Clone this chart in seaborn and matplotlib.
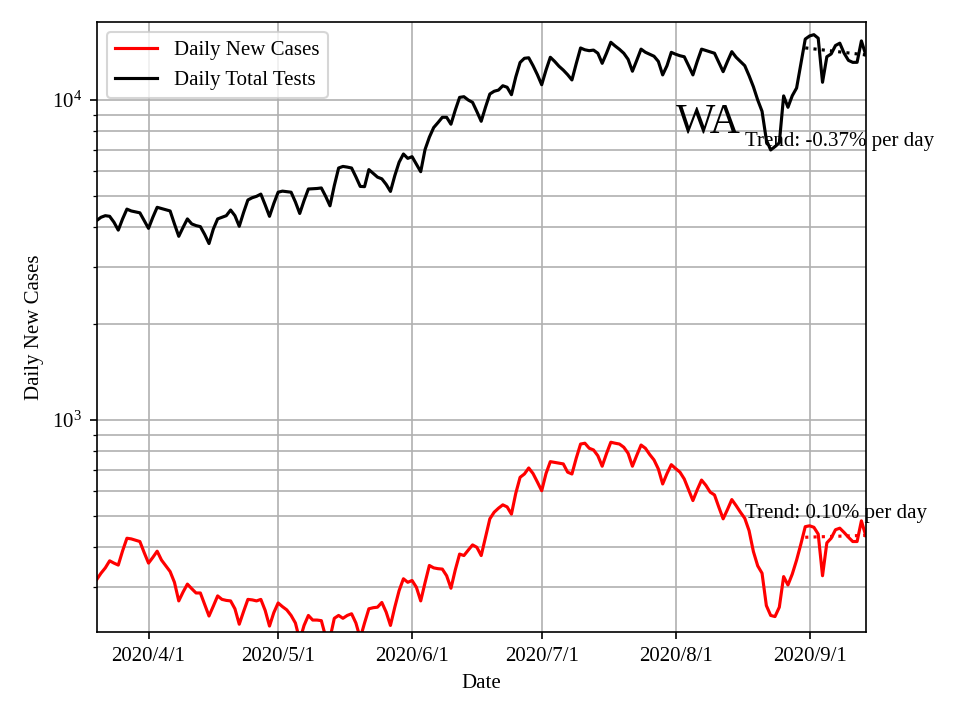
import pandas as pd
import matplotlib
matplotlib.use('Agg')
import matplotlib.pyplot as plt
import matplotlib.dates as mdates
import matplotlib.ticker as mticker
import seaborn as sns

plt.rcParams['font.family'] = ['Liberation Serif', 'DejaVu Serif']
plt.rcParams['mathtext.fontset'] = 'stix'

# daily values, 2020-03-20 .. 2020-09-14
dates = pd.date_range('2020-03-20', '2020-09-14', freq='D')

daily_tests = [
    4200, 4300, 4350, 4330, 4150, 3920, 4250, 4560, 4500, 4470,
    4440, 4200, 3970, 4300, 4620, 4580, 4540, 4500, 4100, 3750,
    4000, 4250, 4100, 4050, 4020, 3800, 3560, 3950, 4250, 4300,
    4350, 4530, 4350, 4030, 4450, 4870, 4950, 5000, 5080, 4700,
    4330, 4750, 5150, 5190, 5170, 5150, 4800, 4420, 4850, 5270,
    5280, 5290, 5310, 5000, 4670, 5400, 6130, 6200, 6170, 6130,
    5750, 5370, 5360, 6060, 5900, 5740, 5670, 5450, 5180, 5800,
    6390, 6780, 6570, 6650, 6300, 5970, 7000, 7650, 8200, 8500,
    8830, 8830, 8400, 9300, 10190, 10240, 10000, 9830, 9200, 8580,
    9500, 10440, 10650, 10740, 11080, 10960, 10390, 11800, 13100, 13500,
    13550, 12800, 12000, 11160, 12400, 13600, 13200, 12750, 12400, 12000,
    11550, 13000, 14540, 14350, 14260, 14320, 14000, 13020, 14000, 15150,
    14750, 14400, 14000, 13400, 12300, 13300, 14420, 14100, 13900, 13700,
    13200, 11980, 12800, 14090, 13900, 13750, 13650, 12800, 11980, 13200,
    14420, 14280, 14140, 14000, 13100, 12260, 13200, 14160, 13600, 13200,
    12800, 11910, 11000, 10000, 9220, 7500, 6980, 7150, 7345, 10300,
    9490, 10314, 10900, 13000, 15500, 15850, 16000, 15600, 11360, 13650,
    13930, 14800, 15050, 14000, 13300, 13110, 13114, 15300, 13850,
]

daily_cases = [
    317, 332, 345, 363, 357, 352, 390, 427, 425, 421,
    417, 385, 357, 372, 389, 365, 350, 336, 311, 272,
    290, 307, 297, 288, 288, 265, 244, 262, 282, 275,
    273, 272, 257, 230, 252, 275, 274, 272, 275, 254,
    227, 250, 268, 261, 255, 245, 232, 205, 228, 245,
    237, 237, 236, 210, 208, 240, 245, 240, 245, 248,
    232, 208, 232, 257, 259, 260, 269, 251, 228, 260,
    293, 319, 311, 315, 300, 272, 310, 351, 345, 343,
    342, 326, 298, 340, 381, 377, 392, 407, 400, 377,
    430, 491, 515, 530, 543, 535, 508, 590, 662, 678,
    708, 680, 640, 601, 680, 741, 737, 733, 729, 687,
    678, 760, 841, 846, 816, 806, 773, 717, 785, 852,
    846, 841, 822, 787, 717, 775, 835, 816, 780, 750,
    703, 631, 680, 725, 705, 687, 654, 605, 560, 605,
    649, 625, 595, 583, 534, 491, 525, 564, 540, 515,
    493, 451, 388, 350, 332, 263, 245, 243, 260, 324,
    305, 330, 365, 410, 464, 467, 462, 440, 326, 413,
    427, 454, 459, 445, 430, 417, 417, 484, 435,
]

# two-week trend fits (start, end)
trend_dates = pd.to_datetime(['2020-08-31', '2020-09-14'])
trend_tests = [14550, 13830]
trend_cases = [430, 436]

df = pd.DataFrame({'Date': dates, 'cases': daily_cases, 'tests': daily_tests})

fig, ax = plt.subplots(figsize=(6.4, 4.8), dpi=150)
fig.subplots_adjust(left=0.1007, right=0.9018, bottom=0.1218, top=0.9699)

sns.lineplot(data=df, x='Date', y='cases', color='red', linewidth=1.5,
             label='Daily New Cases', ax=ax)
sns.lineplot(data=df, x='Date', y='tests', color='black', linewidth=1.5,
             label='Daily Total Tests', ax=ax)
sns.lineplot(x=trend_dates, y=trend_cases, color='red', linestyle=':',
             linewidth=1.5, ax=ax)
sns.lineplot(x=trend_dates, y=trend_tests, color='black', linestyle=':',
             linewidth=1.5, ax=ax)

ax.set_yscale('log')
ax.set_ylim(217, 17570)
ax.set_xlim(dates[0], dates[-1])

ax.xaxis.set_major_locator(mdates.MonthLocator())
ax.xaxis.set_major_formatter(mticker.FuncFormatter(
    lambda v, pos: '{d.year}/{d.month}/{d.day}'.format(d=mdates.num2date(v))))

ax.grid(True, which='both', color='#b0b0b0', linewidth=0.8)

ax.text(pd.Timestamp('2020-08-01'), 7900, 'WA', fontsize=20)
ax.text(pd.Timestamp('2020-08-17'), 7180, 'Trend: -0.37% per day', fontsize=10)
ax.text(pd.Timestamp('2020-08-17'), 493, 'Trend: 0.10% per day', fontsize=10)

ax.set_xlabel('Date')
ax.set_ylabel('Daily New Cases')
ax.legend(loc='upper left')

fig.savefig('out.png', dpi=150)
